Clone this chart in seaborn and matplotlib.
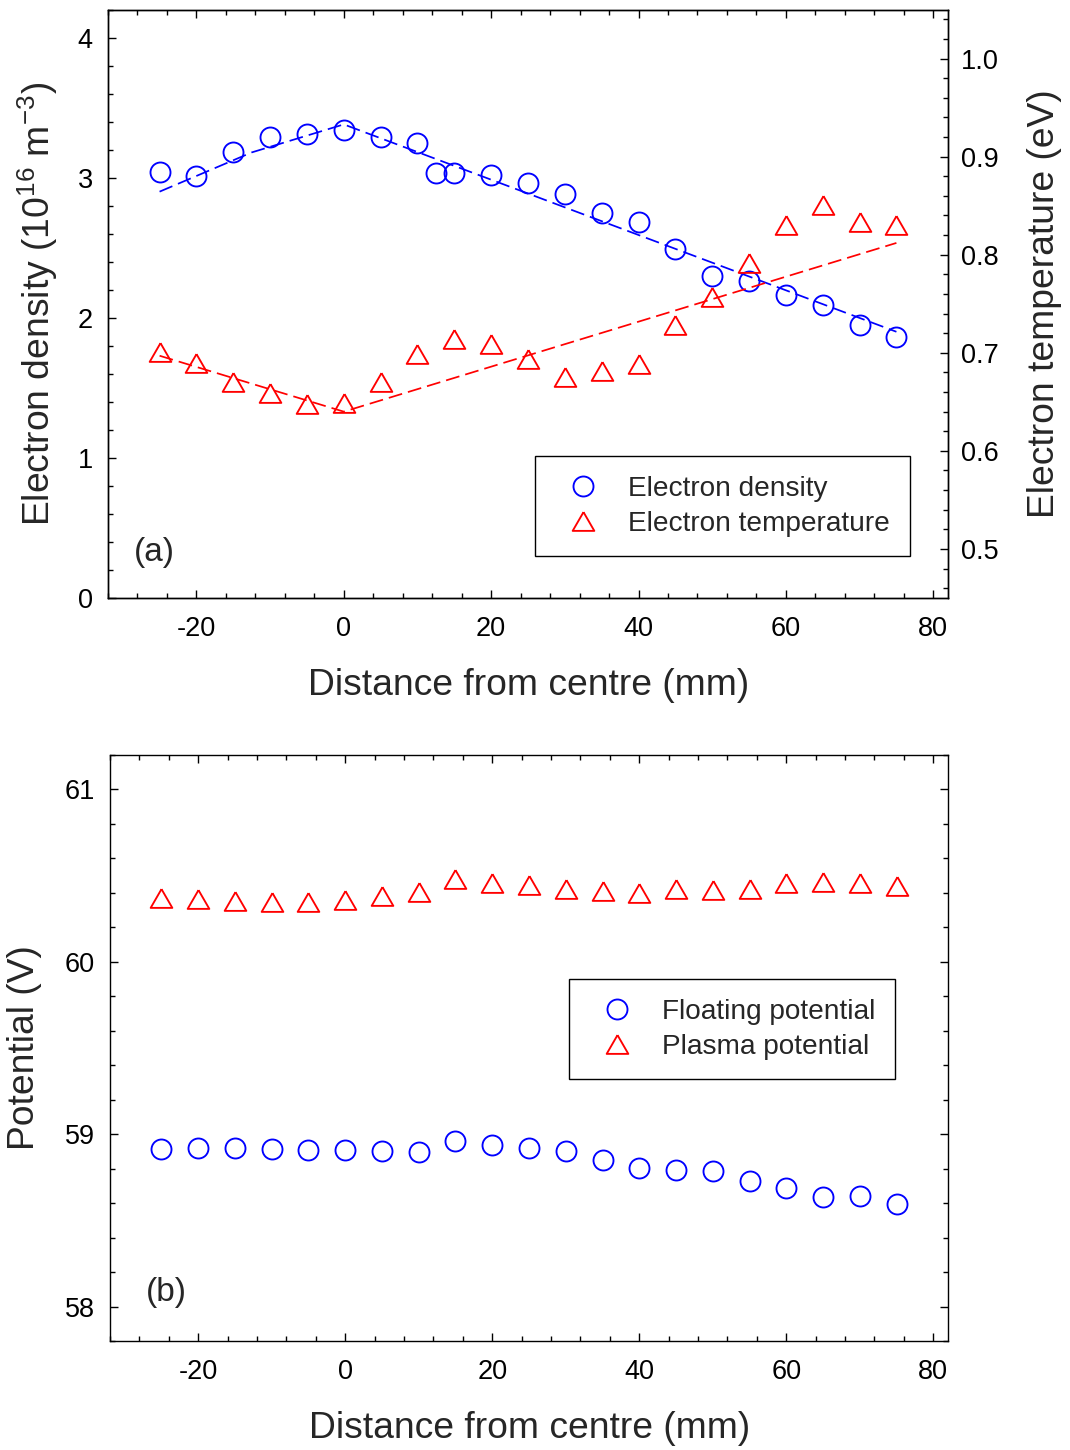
import matplotlib
matplotlib.use("Agg")
import matplotlib.pyplot as plt
from matplotlib.lines import Line2D
from matplotlib.ticker import MultipleLocator, FormatStrFormatter
import pandas as pd
import seaborn as sns

# Probe positions across the discharge (mm from centre)
pos_density = [-25, -20, -15, -10, -5, 0, 5, 10, 12.5, 15, 20, 25, 30, 35, 40,
               45, 50, 55, 60, 65, 70, 75]
pos = [-25, -20, -15, -10, -5, 0, 5, 10, 15, 20, 25, 30, 35, 40, 45, 50, 55,
       60, 65, 70, 75]

# Electron density (10^16 m^-3) and electron temperature (eV)
electron_density = [3.04, 3.01, 3.18, 3.29, 3.31, 3.34, 3.29, 3.25, 3.03, 3.03,
                    3.02, 2.96, 2.88, 2.75, 2.68, 2.49, 2.30, 2.26, 2.16, 2.09,
                    1.95, 1.86]
electron_temperature = [0.701, 0.690, 0.670, 0.659, 0.648, 0.649, 0.670, 0.699,
                        0.714, 0.709, 0.694, 0.675, 0.681, 0.689, 0.728, 0.757,
                        0.792, 0.830, 0.851, 0.833, 0.830]

# Trend lines through the profiles
density_trend_x = [-25, -12.5, 0, 75]
density_trend = [2.90, 3.18, 3.38, 1.90]
temperature_trend_x = [-25, 0, 75]
temperature_trend = [0.697, 0.640, 0.812]

# Floating and plasma potentials (V)
floating_potential = [58.913, 58.921, 58.917, 58.913, 58.907, 58.911, 58.900,
                      58.894, 58.961, 58.940, 58.917, 58.900, 58.851, 58.801,
                      58.793, 58.784, 58.730, 58.686, 58.637, 58.643, 58.593]
plasma_potential = [60.372, 60.362, 60.355, 60.349, 60.347, 60.356, 60.382,
                    60.408, 60.481, 60.459, 60.447, 60.422, 60.413, 60.402,
                    60.422, 60.416, 60.422, 60.459, 60.462, 60.457, 60.439]

sns.set_style("ticks")
plt.rcParams["font.family"] = ["Liberation Sans", "DejaVu Sans"]
plt.rcParams["mathtext.fontset"] = "custom"
plt.rcParams["mathtext.rm"] = "Liberation Sans"
plt.rcParams["mathtext.it"] = "Liberation Sans:italic"
plt.rcParams["axes.unicode_minus"] = False

BLUE = "#0000ff"
RED = "#ff0000"
TICK_FS = 19.5
LABEL_FS = 26.8
LEGEND_FS = 20.2
PANEL_FS = 24

# equilateral triangle centred on its bounding box
TRI = [(0.0, 0.5), (-0.5774, -0.5), (0.5774, -0.5), (0.0, 0.5)]
CIRC_MS = 14.4
TRI_MS = 15.6
MEW = 1.35
DASHES = (8, 3.5)

df_n = pd.DataFrame({"x": pos_density, "n": electron_density})
df = pd.DataFrame({"x": pos, "Te": electron_temperature,
                   "Vf": floating_potential, "Vp": plasma_potential})
df_nfit = pd.DataFrame({"x": density_trend_x, "y": density_trend})
df_tfit = pd.DataFrame({"x": temperature_trend_x, "y": temperature_trend})

fig = plt.figure(figsize=(10.7, 14.5), dpi=100)
ax1 = fig.add_axes([108 / 1070, 1 - 598 / 1450, 840 / 1070, 588.5 / 1450])
ax3 = fig.add_axes([110 / 1070, 1 - 1341 / 1450, 838 / 1070, 586 / 1450])
ax2 = ax1.twinx()


def markers(ax, data, x, y, marker, ms, color):
    sns.lineplot(data=data, x=x, y=y, ax=ax, marker=marker, linestyle="none",
                 markersize=ms, markerfacecolor="none", markeredgecolor=color,
                 markeredgewidth=MEW, color=color, legend=False)


def trend(ax, data, color):
    sns.lineplot(data=data, x="x", y="y", ax=ax, color=color, linewidth=1.25,
                 dashes=False, legend=False).lines[-1].set_dashes(DASHES)


# ---- (a) density and temperature profiles ----
trend(ax1, df_nfit, BLUE)
markers(ax1, df_n, "x", "n", "o", CIRC_MS, BLUE)
trend(ax2, df_tfit, RED)
markers(ax2, df, "x", "Te", TRI, TRI_MS, RED)

ax1.set_xlim(-32, 82)
ax1.set_ylim(0, 4.2)
ax2.set_ylim(0.45, 1.05)
ax1.xaxis.set_major_locator(MultipleLocator(20))
ax1.xaxis.set_minor_locator(MultipleLocator(4))
ax1.yaxis.set_major_locator(MultipleLocator(1))
ax1.yaxis.set_minor_locator(MultipleLocator(0.2))
ax2.yaxis.set_major_locator(MultipleLocator(0.1))
ax2.yaxis.set_minor_locator(MultipleLocator(0.02))
ax2.yaxis.set_major_formatter(FormatStrFormatter("%.1f"))

ax1.set_xlabel("Distance from centre (mm)", fontsize=LABEL_FS)
ax1.set_ylabel(r"Electron density (10$^{16}$ m$^{-3}$)", fontsize=LABEL_FS)
ax2.set_ylabel("Electron temperature (eV)", fontsize=LABEL_FS)
ax1.text(0.031, 0.078, "(a)", transform=ax1.transAxes, fontsize=PANEL_FS,
         ha="left", va="center")

# ---- (b) potentials ----
markers(ax3, df, "x", "Vf", "o", CIRC_MS, BLUE)
markers(ax3, df, "x", "Vp", TRI, TRI_MS, RED)
ax3.set_xlim(-32, 82)
ax3.set_ylim(57.8, 61.2)
ax3.xaxis.set_major_locator(MultipleLocator(20))
ax3.xaxis.set_minor_locator(MultipleLocator(4))
ax3.yaxis.set_major_locator(MultipleLocator(1))
ax3.yaxis.set_minor_locator(MultipleLocator(0.2))
ax3.set_xlabel("Distance from centre (mm)", fontsize=LABEL_FS)
ax3.set_ylabel("Potential (V)", fontsize=LABEL_FS)
ax3.text(0.043, 0.082, "(b)", transform=ax3.transAxes, fontsize=PANEL_FS,
         ha="left", va="center")

# ---- frame and tick styling ----
for ax in (ax1, ax2, ax3):
    for sp in ax.spines.values():
        sp.set_linewidth(1.0)
        sp.set_color("black")
    ax.tick_params(which="both", direction="in", width=1.0, color="black",
                   labelsize=TICK_FS, labelcolor="black")
    ax.tick_params(which="major", length=6)
    ax.tick_params(which="minor", length=3.5)

ax1.tick_params(which="both", top=True, right=False)
ax1.tick_params(axis="x", pad=13)
ax1.tick_params(axis="y", pad=11)
ax2.tick_params(axis="y", pad=9.5)
ax3.tick_params(which="both", top=True, right=True)
ax3.tick_params(axis="x", pad=13)
ax3.tick_params(axis="y", pad=11)

for ax, xl_y, yl_x in ((ax1, -0.1495, -0.0833), (ax3, -0.1485, -0.1026)):
    ax.xaxis.set_label_coords(0.501, xl_y)
    ax.xaxis.label.set_va("center")
    ax.yaxis.set_label_coords(yl_x, 0.5)
    ax.yaxis.label.set_va("center")
ax2.yaxis.set_label_coords(1.115, 0.5)
ax2.yaxis.label.set_va("center")


def legend(ax, labels, anchor):
    handles = [
        Line2D([], [], marker="o", linestyle="none", markersize=CIRC_MS,
               markerfacecolor="none", markeredgecolor=BLUE, markeredgewidth=MEW),
        Line2D([], [], marker=TRI, linestyle="none", markersize=TRI_MS,
               markerfacecolor="none", markeredgecolor=RED, markeredgewidth=MEW),
    ]
    leg = ax.legend(handles, labels, loc="upper left", bbox_to_anchor=anchor,
                    bbox_transform=ax.transAxes, borderaxespad=0,
                    fontsize=LEGEND_FS, frameon=True, fancybox=False,
                    framealpha=1, edgecolor="black", borderpad=0.7,
                    handlelength=2.0, handletextpad=0.62, labelspacing=0.32)
    leg.get_frame().set_linewidth(1.0)
    return leg


legend(ax2, ["Electron density", "Electron temperature"], (0.5083, 0.2413))
legend(ax3, ["Floating potential", "Plasma potential"], (0.5477, 0.6177))

fig.savefig("out.png", dpi=100)
